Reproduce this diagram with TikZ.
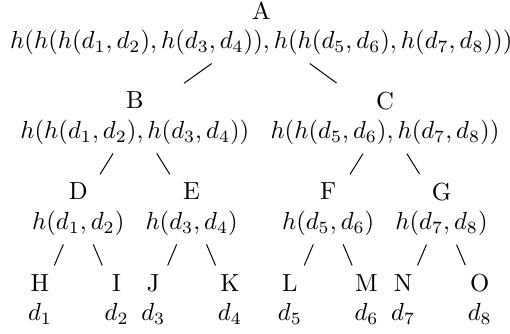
\documentclass[tikz,border=0pt]{standalone}
\usepackage{amsmath,amssymb}
\usepackage{tikz}

\begin{document}
\begin{tikzpicture}[hnode/.style={align=center}]
		
		\useasboundingbox (0,0) rectangle (7.26,-4.75);
		
		% Root
		\node[hnode] (A) at (3.72,-0.40) {A\\$h(h(h(d_1,d_2),h(d_3,d_4)),h(h(d_5,d_6),h(d_7,d_8)))$};
		
		% Second level
		\node[hnode] (B) at (1.92,-1.685) {B\\$h(h(d_1,d_2),h(d_3,d_4))$};
		\node[hnode] (C) at (5.48,-1.685) {C\\$h(h(d_5,d_6),h(d_7,d_8))$};
		
		% Third level
		\node[hnode] (D) at (1.114,-2.98) {D\\$h(d_1,d_2)$};
		\node[hnode] (E) at (2.728,-2.98) {E\\$h(d_3,d_4)$};
		\node[hnode] (F) at (4.672,-2.98) {F\\$h(d_5,d_6)$};
		\node[hnode] (G) at (6.285,-2.98) {G\\$h(d_7,d_8)$};
		
		% Leaves
		\node[hnode] (H) at (0.569,-4.26) {H\\$d_1$};
		\node[hnode] (I) at (1.661,-4.26) {I\\$d_2$};
		\node[hnode] (J) at (2.182,-4.26) {J\\$d_3$};
		\node[hnode] (K) at (3.273,-4.26) {K\\$d_4$};
		\node[hnode] (L) at (4.127,-4.26) {L\\$d_5$};
		\node[hnode] (M) at (5.218,-4.26) {M\\$d_6$};
		\node[hnode] (N) at (5.739,-4.26) {N\\$d_7$};
		\node[hnode] (O) at (6.830,-4.26) {O\\$d_8$};
		
		% Edges
		\draw (A) -- (B);
		\draw (A) -- (C);
		\draw (B) -- (D);
		\draw (B) -- (E);
		\draw (C) -- (F);
		\draw (C) -- (G);
		\draw (D) -- (H);
		\draw (D) -- (I);
		\draw (E) -- (J);
		\draw (E) -- (K);
		\draw (F) -- (L);
		\draw (F) -- (M);
		\draw (G) -- (N);
		\draw (G) -- (O);
		
	\end{tikzpicture}
\end{document}
